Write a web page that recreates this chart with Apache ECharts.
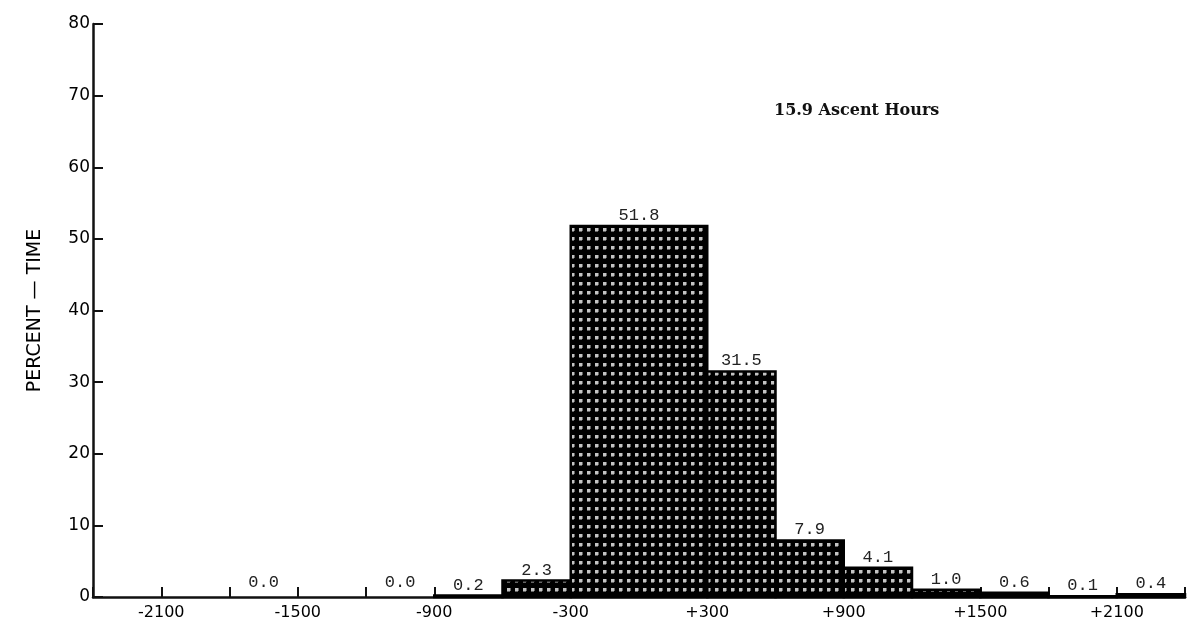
<!DOCTYPE html>
<html>
<head>
<meta charset="utf-8">
<script src="https://cdn.jsdelivr.net/npm/echarts@6/dist/echarts.min.js"></script>
<style>html,body{margin:0;padding:0;background:#fff;}#c{width:1189px;height:629px;}</style>
</head>
<body>
<div id="c"></div>
<script>
// ---- data ----
const binStart = [-1800, -1200, -900, -600, -300, 300, 600, 900, 1200, 1500, 1800, 2100];
const binEnd   = [-1500,  -900, -600, -300,  300, 600, 900, 1200, 1500, 1800, 2100, 2400];
const percent  = [0.0, 0.0, 0.2, 2.3, 51.8, 31.5, 7.9, 4.1, 1.0, 0.6, 0.1, 0.4];
const valueLabels = ['0.0', '0.0', '0.2', '2.3', '51.8', '31.5', '7.9', '4.1', '1.0', '0.6', '0.1', '0.4'];
const xTickValues = [-2100, -1500, -900, -300, 300, 900, 1500, 2100];
const xTickLabels = ['-2100', '-1500', '-900', '-300', '+300', '+900', '+1500', '+2100'];
const yTitle = 'PERCENT — TIME';
const note = '15.9 Ascent Hours';

// dot pattern
const pc = document.createElement('canvas');
pc.width = 8; pc.height = 9;
const g = pc.getContext('2d');
g.fillStyle = '#000'; g.fillRect(0, 0, 8, 9);
g.fillStyle = '#c4c4c4'; g.fillRect(3, 3, 3, 3);
g.fillStyle = '#666'; g.fillRect(3, 6, 3, 1); g.fillRect(6, 3, 1, 3);

const data = binStart.map((s, i) => [s, binEnd[i], percent[i], valueLabels[i]]);

const chart = echarts.init(document.getElementById('c'), null, {renderer: 'canvas'});
chart.setOption({
  animation: false,
  backgroundColor: '#fff',
  grid: {left: 93, right: 4, top: 24, bottom: 32, containLabel: false},
  xAxis: {
    type: 'value', min: -2400, max: 2400, interval: 300,
    axisLine: {show: true, onZero: false, lineStyle: {color: '#111', width: 2.5}},
    axisTick: {show: true, inside: true, length: 10, lineStyle: {color: '#111', width: 2}},
    splitLine: {show: false},
    axisLabel: {
      show: true, margin: 8, color: '#000', fontFamily: 'DejaVu Sans', fontSize: 16,
      formatter: v => { const k = xTickValues.indexOf(v); return k >= 0 ? xTickLabels[k] : ''; }
    }
  },
  yAxis: {
    type: 'value', min: 0, max: 80, interval: 10,
    axisLine: {show: true, onZero: false, lineStyle: {color: '#111', width: 2.5}},
    axisTick: {show: true, inside: true, length: 10, lineStyle: {color: '#111', width: 2}},
    splitLine: {show: false},
    axisLabel: {margin: 3, color: '#000', fontFamily: 'DejaVu Sans', fontSize: 17},
    name: yTitle, nameLocation: 'middle', nameGap: 48, nameRotate: 90,
    nameTextStyle: {color: '#000', fontFamily: 'DejaVu Sans', fontSize: 19}
  },
  graphic: [{
    type: 'text', left: 774, top: 103,
    style: {text: note, fill: '#111', font: 'bold 16px "DejaVu Serif"'}
  }],
  series: [{
    type: 'custom',
    data: data,
    encode: {x: [0, 1], y: 2},
    renderItem: function (params, api) {
      const s = api.value(0), e = api.value(1), v = api.value(2);
      const p0 = api.coord([s, v]);
      const p1 = api.coord([e, 0]);
      const children = [];
      const h = p1[1] - p0[1];
      if (h > 0.5) {
        children.push({
          type: 'rect',
          shape: {x: p0[0], y: p0[1], width: p1[0] - p0[0], height: h},
          style: {fill: {image: pc, repeat: 'repeat'}, stroke: '#000', lineWidth: 2.5}
        });
      }
      const labelY = h > 0.5 ? p0[1] - 2 : p1[1] - 6;
      children.push({
        type: 'text',
        style: {
          text: data[params.dataIndex][3], x: (p0[0] + p1[0]) / 2, y: labelY,
          align: 'center', verticalAlign: 'bottom',
          fill: '#222', font: '17px "Liberation Mono"'
        }
      });
      return {type: 'group', children: children};
    }
  }]
});
</script>
</body>
</html>
